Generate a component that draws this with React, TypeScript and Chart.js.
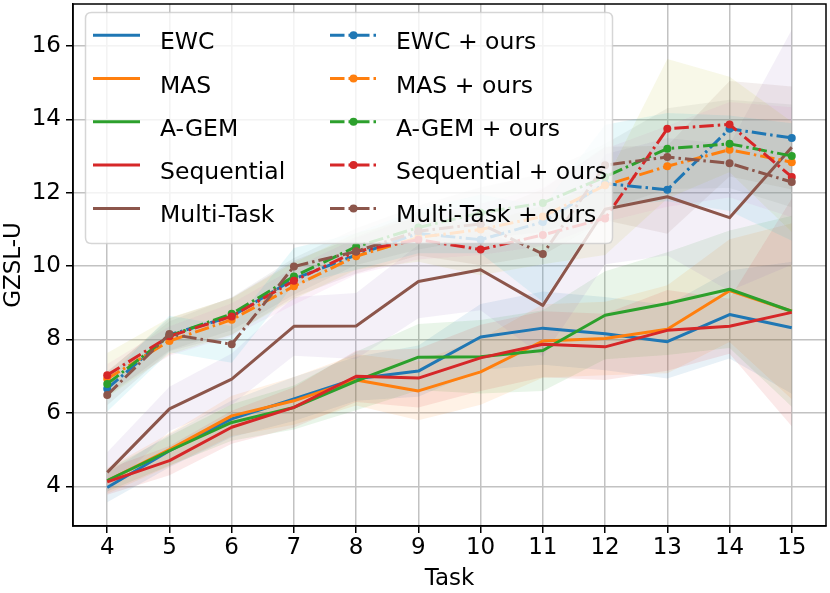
import React, { useEffect, useRef } from "react";
import { Chart, registerables } from "chart.js";

Chart.register(...registerables);

// ---------- data ----------
const tasks = [4, 5, 6, 7, 8, 9, 10, 11, 12, 13, 14, 15];
const yTickValues = [4, 6, 8, 10, 12, 14, 16];

const seriesNames = [
  "EWC", "MAS", "A-GEM", "Sequential", "Multi-Task",
  "EWC + ours", "MAS + ours", "A-GEM + ours", "Sequential + ours", "Multi-Task + ours",
];

const ewc = [3.97, 4.97, 5.84, 6.38, 6.93, 7.14, 8.07, 8.31, 8.16, 7.94, 8.68, 8.32];
const mas = [4.15, 5.0, 5.92, 6.33, 6.9, 6.6, 7.12, 7.96, 8.03, 8.28, 9.33, 8.77];
const agem = [4.16, 4.97, 5.74, 6.15, 6.87, 7.52, 7.53, 7.7, 8.66, 8.98, 9.37, 8.77];
const sequential = [4.12, 4.7, 5.61, 6.15, 7.0, 6.95, 7.5, 7.87, 7.8, 8.25, 8.36, 8.74];
const multiTask = [4.38, 6.11, 6.92, 8.36, 8.37, 9.58, 9.9, 8.93, 11.55, 11.89, 11.32, 13.24];

const ewcOurs = [6.66, 8.13, 8.63, 9.65, 10.3, 10.89, 10.72, 11.2, 12.25, 12.08, 13.74, 13.49];
const masOurs = [6.93, 7.96, 8.54, 9.45, 10.27, 10.78, 11.0, 11.35, 12.2, 12.72, 13.17, 12.83];
const agemOurs = [6.79, 8.1, 8.7, 9.72, 10.53, 11.05, 11.45, 11.72, 12.43, 13.2, 13.33, 13.0];
const sequentialOurs = [7.03, 8.09, 8.63, 9.6, 10.4, 10.72, 10.45, 10.85, 11.3, 13.74, 13.86, 12.43];
const multiTaskOurs = [6.49, 8.15, 7.87, 9.99, 10.4, 10.95, 11.15, 10.33, 12.75, 12.97, 12.8, 12.29];

// standard deviations (shaded bands)
const ewcSd = [0.4, 0.45, 0.5, 0.6, 0.6, 0.7, 0.9, 1.0, 1.0, 1.0, 1.2, 1.8];
const masSd = [0.35, 0.45, 0.55, 0.65, 0.7, 0.8, 0.9, 1.0, 1.0, 1.2, 1.4, 2.4];
const agemSd = [0.3, 0.4, 0.5, 0.6, 0.8, 0.9, 1.0, 1.1, 1.2, 1.4, 1.6, 2.6];
const sequentialSd = [0.35, 0.4, 0.45, 0.55, 0.7, 0.8, 0.9, 0.9, 0.9, 1.1, 0.75, 3.1];
const multiTaskSd = [0.55, 0.6, 0.7, 0.8, 0.9, 1.0, 1.1, 1.4, 1.5, 1.6, 2.0, 3.2];
const ewcOursSd = [0.45, 0.45, 0.5, 0.5, 0.5, 0.6, 0.7, 0.9, 1.0, 1.2, 1.3, 1.4];
const masOursSd = [0.4, 0.4, 0.45, 0.5, 0.5, 0.6, 0.7, 0.8, 1.0, 1.1, 1.3, 1.5];
const agemOursSd = [0.35, 0.4, 0.45, 0.5, 0.5, 0.6, 0.7, 0.8, 0.9, 1.1, 1.2, 1.4];
const sequentialOursSd = [0.6, 0.5, 0.5, 0.5, 0.5, 0.6, 0.7, 0.8, 1.0, 1.9, 1.3, 1.5];
const multiTaskOursSd = [0.45, 0.5, 0.5, 0.5, 0.5, 0.6, 0.8, 1.3, 1.1, 1.2, 1.3, 1.6];

const seriesValues = [ewc, mas, agem, sequential, multiTask, ewcOurs, masOurs, agemOurs, sequentialOurs, multiTaskOurs];
const seriesSd = [ewcSd, masSd, agemSd, sequentialSd, multiTaskSd, ewcOursSd, masOursSd, agemOursSd, sequentialOursSd, multiTaskOursSd];

// ---------- style ----------
const lineColors = ["#1f77b4", "#ff7f0e", "#2ca02c", "#d62728", "#8c564b", "#1f77b4", "#ff7f0e", "#2ca02c", "#d62728", "#8c564b"];
const bandColors = [
  "rgba(31,119,180,0.1)", "rgba(255,127,14,0.1)", "rgba(44,160,44,0.1)", "rgba(214,39,40,0.1)", "rgba(148,103,189,0.1)",
  "rgba(140,86,75,0.1)", "rgba(227,119,194,0.1)", "rgba(127,127,127,0.1)", "rgba(188,189,34,0.1)", "rgba(23,190,207,0.1)",
];
const FONT = "DejaVu Sans";
const DASH = [14.5, 4, 2.5, 4];

const framePlugin = {
  id: "frame",
  afterDatasetsDraw(chart: any) {
    const { ctx, chartArea } = chart;
    ctx.save();
    ctx.strokeStyle = "#000";
    ctx.lineWidth = 1.5;
    ctx.strokeRect(chartArea.left, chartArea.top, chartArea.right - chartArea.left, chartArea.bottom - chartArea.top);
    ctx.restore();
  },
};

const legendPlugin = {
  id: "mplLegend",
  afterDraw(chart: any) {
    const ctx = chart.ctx;
    ctx.save();
    const bx = 85.5, by = 12.5, bw = 527, bh = 231, r = 6;
    ctx.beginPath();
    ctx.moveTo(bx + r, by);
    ctx.lineTo(bx + bw - r, by);
    ctx.quadraticCurveTo(bx + bw, by, bx + bw, by + r);
    ctx.lineTo(bx + bw, by + bh - r);
    ctx.quadraticCurveTo(bx + bw, by + bh, bx + bw - r, by + bh);
    ctx.lineTo(bx + r, by + bh);
    ctx.quadraticCurveTo(bx, by + bh, bx, by + bh - r);
    ctx.lineTo(bx, by + r);
    ctx.quadraticCurveTo(bx, by, bx + r, by);
    ctx.closePath();
    ctx.fillStyle = "rgba(255,255,255,0.8)";
    ctx.fill();
    ctx.strokeStyle = "rgba(204,204,204,0.8)";
    ctx.lineWidth = 1.5;
    ctx.stroke();

    ctx.font = `23.5px "${FONT}"`;
    ctx.textBaseline = "alphabetic";
    ctx.textAlign = "left";
    for (let i = 0; i < seriesNames.length; i++) {
      const col = i < 5 ? 0 : 1;
      const row = i % 5;
      const y = 35.2 + row * 43.3;
      const hx0 = col === 0 ? 93 : 330;
      const hx1 = hx0 + 47;
      const tx = col === 0 ? 160 : 396;
      ctx.strokeStyle = lineColors[i];
      ctx.lineWidth = 3;
      ctx.lineCap = "butt";
      ctx.setLineDash(col === 1 ? DASH : []);
      ctx.beginPath();
      ctx.moveTo(hx0, y);
      ctx.lineTo(hx1, y);
      ctx.stroke();
      ctx.setLineDash([]);
      if (col === 1) {
        ctx.fillStyle = lineColors[i];
        ctx.beginPath();
        ctx.arc((hx0 + hx1) / 2, y, 4, 0, Math.PI * 2);
        ctx.fill();
      }
      ctx.fillStyle = "#000";
      ctx.fillText(seriesNames[i], tx, y + 14);
    }
    ctx.restore();
  },
};

export default function App() {
  const ref = useRef<HTMLCanvasElement | null>(null);
  useEffect(() => {
    if (!ref.current) return;
    document.body.style.margin = "0";
    const datasets: any[] = [];
    // bands
    seriesValues.forEach((vals, i) => {
      const sd = seriesSd[i];
      datasets.push({
        label: seriesNames[i] + " upper",
        data: tasks.map((t, k) => ({ x: t, y: vals[k] + sd[k] })),
        borderWidth: 0,
        borderColor: "rgba(0,0,0,0)",
        pointRadius: 0,
        fill: false,
        order: 200 - i,
      });
      datasets.push({
        label: seriesNames[i] + " lower",
        data: tasks.map((t, k) => ({ x: t, y: vals[k] - sd[k] })),
        borderWidth: 0,
        borderColor: "rgba(0,0,0,0)",
        backgroundColor: bandColors[i],
        pointRadius: 0,
        fill: "-1",
        order: 200 - i,
      });
    });
    // lines
    seriesValues.forEach((vals, i) => {
      const dashed = i >= 5;
      datasets.push({
        label: seriesNames[i],
        data: tasks.map((t, k) => ({ x: t, y: vals[k] })),
        borderColor: lineColors[i],
        backgroundColor: lineColors[i],
        borderWidth: 3,
        borderDash: dashed ? DASH : [],
        borderJoinStyle: "round",
        pointRadius: dashed ? 4 : 0,
        pointBorderWidth: 0,
        pointBackgroundColor: lineColors[i],
        fill: false,
        tension: 0,
        order: 50 - i,
      });
    });

    const tickFont = { family: FONT, size: 23 };
    const chart = new Chart(ref.current, {
      type: "line",
      data: { datasets },
      options: {
        animation: false,
        responsive: false,
        devicePixelRatio: 1,
        layout: { padding: { top: 1, right: 1, left: 0, bottom: 0 } },
        plugins: { legend: { display: false }, tooltip: { enabled: false } },
        scales: {
          x: {
            type: "linear",
            min: 3.45,
            max: 15.55,
            afterBuildTicks: (s: any) => { s.ticks = tasks.map((v) => ({ value: v })); },
            afterFit: (s: any) => { s.height = 67; s.paddingLeft = 0; s.paddingRight = 0; },
            ticks: { font: tickFont, color: "#000", padding: 1, maxRotation: 0, autoSkip: false, callback: (v: any) => String(v) },
            grid: { color: "#c2c2c2", lineWidth: 1.5, tickColor: "#000", tickLength: 7, tickWidth: 1.5 },
            border: { color: "#000", width: 1.5 },
            title: { display: true, text: "Task", font: tickFont, color: "#000", padding: { top: 0, bottom: 0 } },
          },
          y: {
            type: "linear",
            min: 2.92,
            max: 17.14,
            afterBuildTicks: (s: any) => { s.ticks = yTickValues.map((v) => ({ value: v })); },
            afterFit: (s: any) => { s.width = 73; s.paddingTop = 0; s.paddingBottom = 0; },
            ticks: { font: tickFont, color: "#000", padding: 5, autoSkip: false, callback: (v: any) => String(v) },
            grid: { color: "#c2c2c2", lineWidth: 1.5, tickColor: "#000", tickLength: 7, tickWidth: 1.5 },
            border: { color: "#000", width: 1.5 },
            title: { display: true, text: "GZSL-U", font: tickFont, color: "#000", padding: { top: 0, bottom: 0 } },
          },
        },
      },
      plugins: [framePlugin, legendPlugin],
    } as any);
    return () => chart.destroy();
  }, []);

  return (
    <div style={{ position: "fixed", left: 0, top: 0, width: 830, height: 593, background: "#fff" }}>
      <canvas ref={ref} width={830} height={593} style={{ display: "block" }} />
    </div>
  );
}
